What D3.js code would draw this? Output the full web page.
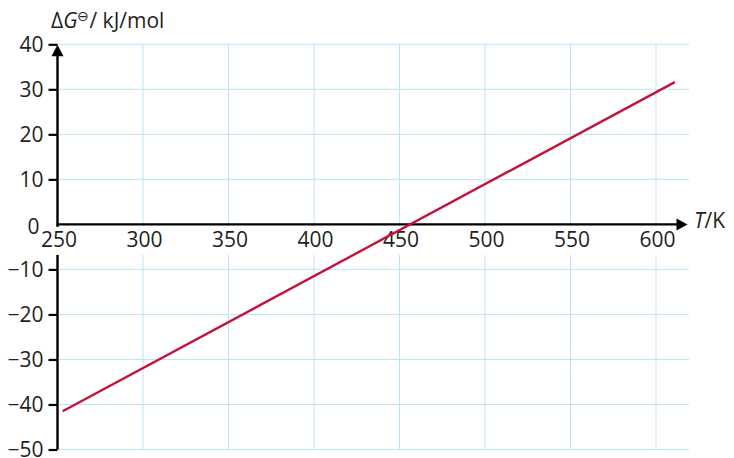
<!DOCTYPE html>
<html>
<head>
<meta charset="utf-8">
<script src="https://cdn.jsdelivr.net/npm/d3@7"></script>
<style>
  html, body { margin: 0; padding: 0; background: #fff; }
  svg { display: block; font-family: "Open Sans", "Noto Sans", sans-serif; }
</style>
</head>
<body>
<svg id="chart" width="734" height="458"></svg>
<script>
// Gibbs free energy change against temperature
const temperatures = [253, 611];       // K
const deltaG = [-41.5, 31.6];          // kJ/mol
const xTickValues = [250, 300, 350, 400, 450, 500, 550, 600];
const yTickValues = [-50, -40, -30, -20, -10, 0, 10, 20, 30, 40];

const plot = { left: 57.5, right: 689, top: 44.3, bottom: 449.5 };
const gridColor = "#bfe4f6";
const lineColor = "#c0143c";
const textColor = "#231f20";
const fontSize = 21;

const svg = d3.select("#chart");

const x = d3.scaleLinear().domain([250, 600]).range([plot.left, 656]);
const y = d3.scaleLinear().domain([-50, 40]).range([plot.bottom, plot.top]);

// grid
const grid = svg.append("g").attr("stroke", gridColor).attr("stroke-width", 1);
grid.selectAll("line.h")
  .data(yTickValues.filter(v => v !== 0))
  .join("line")
  .attr("class", "h")
  .attr("x1", plot.left).attr("x2", plot.right)
  .attr("y1", d => y(d)).attr("y2", d => y(d));
grid.selectAll("line.v")
  .data(xTickValues.filter(v => v !== 250))
  .join("line")
  .attr("class", "v")
  .attr("x1", d => x(d)).attr("x2", d => x(d))
  .attr("y1", plot.top).attr("y2", plot.bottom);

// vertical axis line with arrowhead
svg.append("line")
  .attr("x1", plot.left).attr("x2", plot.left)
  .attr("y1", y(-50)).attr("y2", plot.top + 10)
  .attr("stroke", "#000").attr("stroke-width", 2.4);
svg.append("path")
  .attr("d", `M${plot.left},${plot.top + 0.5} L${plot.left - 6},${plot.top + 12} L${plot.left + 6},${plot.top + 12} Z`)
  .attr("fill", "#000");

// x tick labels on white patches
const xLabels = svg.append("g");
xLabels.selectAll("rect")
  .data(xTickValues)
  .join("rect")
  .attr("x", d => x(d) - 17)
  .attr("y", y(0) + 2.5)
  .attr("width", 37)
  .attr("height", 28)
  .attr("fill", "#fff");
xLabels.selectAll("text")
  .data(xTickValues)
  .join("text")
  .attr("x", d => x(d) + 1.5)
  .attr("y", y(0) + 22.5)
  .attr("text-anchor", "middle")
  .attr("font-size", fontSize)
  .attr("fill", textColor)
  .text(d => d);

// y axis ticks and labels
const yAxis = d3.axisLeft(y)
  .tickValues(yTickValues)
  .tickSize(9)
  .tickPadding(5)
  .tickFormat(d3.format("d"));
const gy = svg.append("g")
  .attr("transform", `translate(${plot.left},0)`)
  .call(yAxis);
gy.select(".domain").remove();
gy.selectAll(".tick line").attr("stroke", "#000").attr("stroke-width", 2.2);
gy.selectAll(".tick text")
  .attr("font-size", fontSize)
  .attr("font-family", "'Open Sans', sans-serif")
  .attr("fill", textColor);
gy.selectAll(".tick").filter(d => d === 0).select("text")
  .attr("dx", -4).attr("dy", "0.42em");
gy.selectAll(".tick").filter(d => d === 0).select("line").remove();

// horizontal axis line with arrowhead
const xEnd = 687.5;
svg.append("line")
  .attr("x1", plot.left - 1).attr("x2", xEnd - 10)
  .attr("y1", y(0)).attr("y2", y(0))
  .attr("stroke", "#000").attr("stroke-width", 2.4);
svg.append("path")
  .attr("d", `M${xEnd},${y(0)} L${xEnd - 11},${y(0) - 6} L${xEnd - 11},${y(0) + 6} Z`)
  .attr("fill", "#000");

// data line
const pts = temperatures.map((t, i) => [t, deltaG[i]]);
svg.append("path")
  .datum(pts)
  .attr("fill", "none")
  .attr("stroke", lineColor)
  .attr("stroke-width", 2.4)
  .attr("d", d3.line().x(d => x(d[0])).y(d => y(d[1])));

// axis titles
const yTitle = svg.append("text")
  .attr("x", 51)
  .attr("y", 28)
  .attr("font-size", fontSize)
  .attr("fill", textColor);
yTitle.append("tspan").text("Δ");
yTitle.append("tspan").attr("font-style", "italic").text("G");
yTitle.append("tspan").attr("font-size", 14).attr("dy", -7).text("⊖");
yTitle.append("tspan").attr("dy", 7).text("/ kJ/mol");

const xTitle = svg.append("text")
  .attr("x", 694)
  .attr("y", y(0) + 4)
  .attr("font-size", fontSize)
  .attr("fill", textColor);
xTitle.append("tspan").attr("font-style", "italic").text("T");
xTitle.append("tspan").text("/K");
</script>
</body>
</html>
